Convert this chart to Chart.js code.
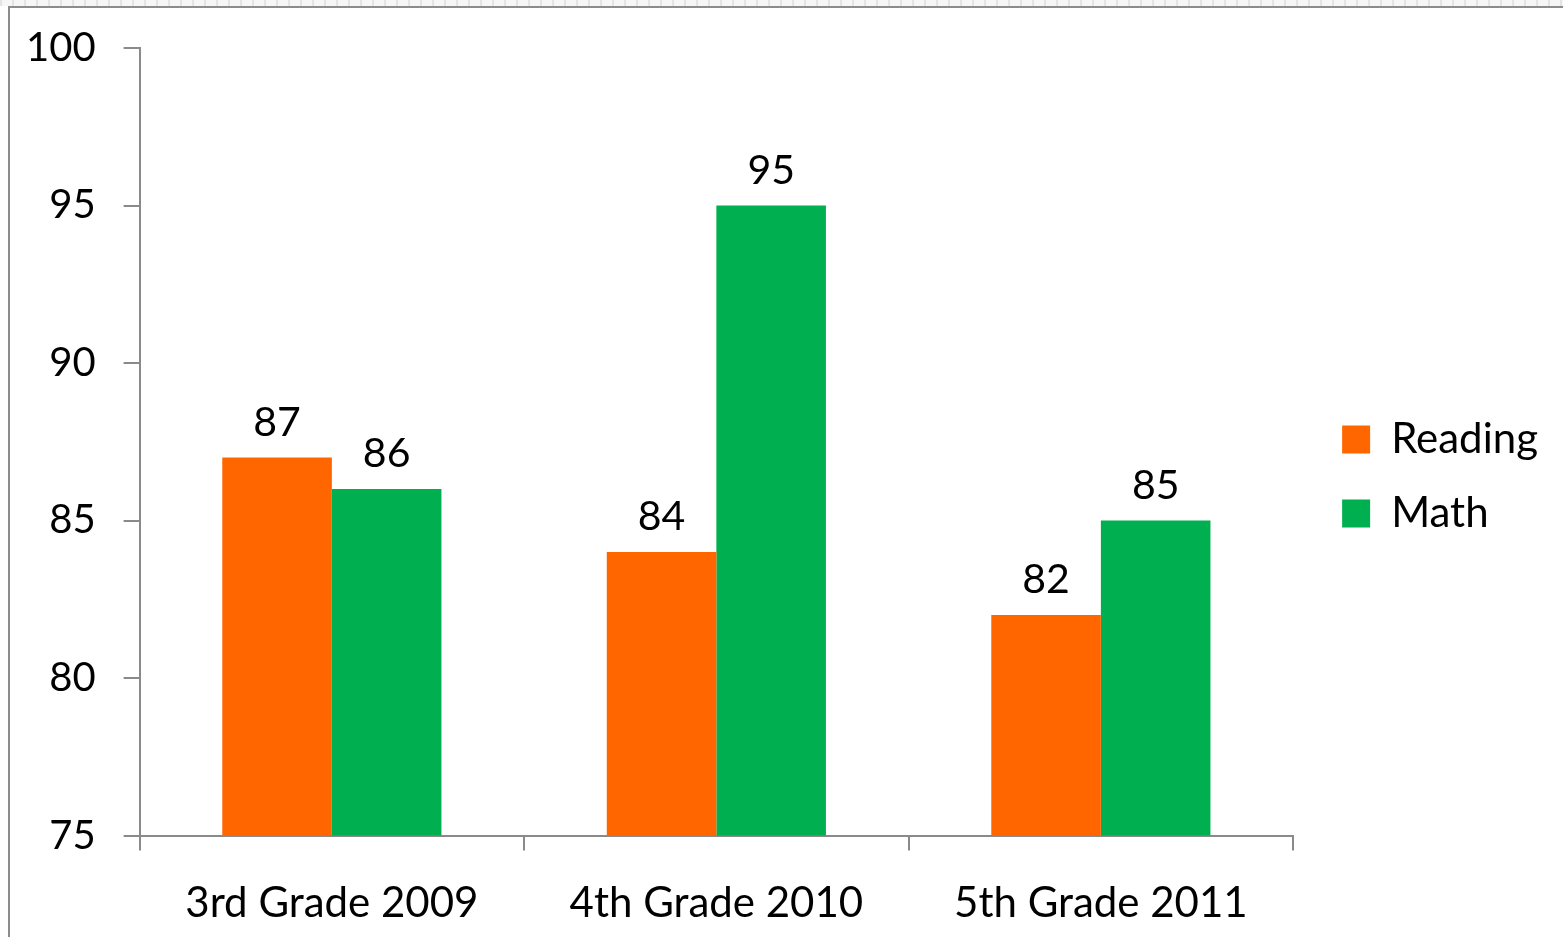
<!DOCTYPE html>
<html>
<head>
<meta charset="utf-8">
<script src="https://cdn.jsdelivr.net/npm/chart.js@4.4.1/dist/chart.umd.min.js"></script>
<style>
  html, body { margin: 0; padding: 0; background: #fff; }
  body { width: 1563px; height: 937px; position: relative; overflow: hidden; }
  .strip {
    position: absolute; left: 0; top: 0; width: 1563px; height: 6px;
    background: repeating-linear-gradient(90deg, #e4e4e4 0 2px, #f6f6f6 2px 12px);
  }
  .frame {
    position: absolute; left: 8px; top: 6px; width: 1580px; height: 960px;
    border-left: 2px solid #8c8c8c; border-top: 2px solid #8c8c8c;
    box-sizing: border-box;
  }
  #wrap { position: absolute; left: -2px; top: -4px; width: 1565px; height: 979px; }
</style>
</head>
<body>
<div class="strip"></div>
<div class="frame"></div>
<div id="wrap"><canvas id="chart"></canvas></div>
<script>
// データ
const categories = ['3rd Grade 2009', '4th Grade 2010', '5th Grade 2011'];
const reading = [87, 84, 82];
const math = [86, 95, 85];
const yTicks = [75, 80, 85, 90, 95, 100];

const FONT = 'Lato, "Open Sans", sans-serif';
const AXIS_GRAY = '#8a8a8a';

// 棒の上に値を描く
const valueLabels = {
  id: 'valueLabels',
  afterDatasetsDraw(chart) {
    const { ctx } = chart;
    ctx.save();
    ctx.font = `41px ${FONT}`;
    ctx.fillStyle = '#000';
    ctx.textAlign = 'center';
    ctx.textBaseline = 'alphabetic';
    chart.data.datasets.forEach((ds, i) => {
      chart.getDatasetMeta(i).data.forEach((bar, j) => {
        ctx.fillText(String(ds.data[j]), bar.x, bar.y - 22);
      });
    });
    ctx.restore();
  }
};

new Chart(document.getElementById('chart'), {
  type: 'bar',
  data: {
    labels: categories,
    datasets: [
      { label: 'Reading', data: reading, backgroundColor: '#ff6600', borderWidth: 0 },
      { label: 'Math', data: math, backgroundColor: '#00b050', borderWidth: 0 }
    ]
  },
  options: {
    responsive: true,
    maintainAspectRatio: false,
    animation: false,
    layout: { padding: { left: 0, top: 0, right: 15, bottom: 18 } },
    datasets: { bar: { categoryPercentage: 0.57, barPercentage: 1.0 } },
    scales: {
      x: {
        grid: { drawOnChartArea: false, drawTicks: true, tickLength: 15, color: AXIS_GRAY, lineWidth: 2, offset: true },
        border: { color: AXIS_GRAY, width: 2 },
        ticks: { color: '#000', font: { family: FONT, size: 42 }, padding: 28 }
      },
      y: {
        min: 75,
        max: 100,
        afterBuildTicks: (axis) => { axis.ticks = yTicks.map(v => ({ value: v })); },
        grid: { drawOnChartArea: false, drawTicks: true, tickLength: 16, color: AXIS_GRAY, lineWidth: 2 },
        border: { color: AXIS_GRAY, width: 2 },
        ticks: { color: '#000', font: { family: FONT, size: 40 }, padding: 28 }
      },
      // 凡例との間隔用の空き軸
      gap: {
        position: 'right',
        display: true,
        grid: { display: false },
        border: { display: false },
        ticks: { display: false },
        afterFit: (scale) => { scale.width = 17; }
      }
    },
    plugins: {
      legend: {
        position: 'right',
        labels: {
          color: '#000',
          font: { family: FONT, size: 42 },
          boxWidth: 28,
          boxHeight: 28,
          padding: 32
        }
      },
      tooltip: { enabled: false }
    }
  },
  plugins: [valueLabels]
});
</script>
</body>
</html>
